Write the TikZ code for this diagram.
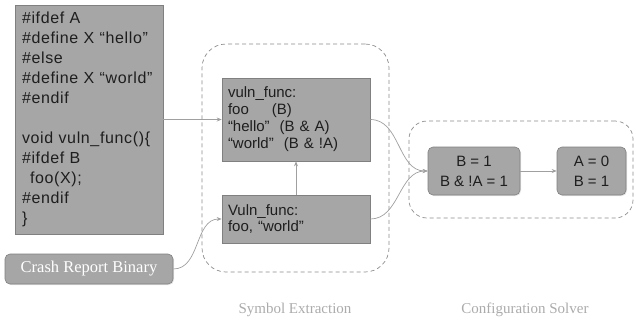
\documentclass[tikz,border=0pt]{standalone}
\usepackage{fontspec}
\setmainfont{Liberation Serif}
\setsansfont{Liberation Sans}
\newfontfamily\codefont[LetterSpace=4]{Liberation Sans}
\usetikzlibrary{arrows.meta,shadows}

\definecolor{boxgray}{HTML}{A6A6A6}
\definecolor{edgegray}{HTML}{808080}
\definecolor{linegray}{HTML}{A0A0A0}
\definecolor{dashgray}{HTML}{8C8C8C}
\definecolor{capgray}{HTML}{ABABAB}
\definecolor{inkgray}{HTML}{1E1E1E}

\begin{document}
\begin{tikzpicture}[x=1pt, y=-1pt,
  graybox/.style={rectangle, draw=edgegray, fill=boxgray, line width=0.6pt, text=inkgray,
    drop shadow={opacity=0.2, shadow xshift=1pt, shadow yshift=-1pt}},
  roundbox/.style={graybox, rounded corners=5pt},
  frame/.style={draw=dashgray, line width=0.7pt, dash pattern=on 4pt off 3pt},
  flow/.style={draw=linegray, line width=0.7pt, -{Stealth[length=5pt, width=4pt]}},
  caption/.style={text=capgray, font=\fontsize{15}{17}\selectfont}]
  \useasboundingbox (0,0) rectangle (636,322);

  % Dashed stage frames
  \node[frame, rounded corners=24pt, minimum width=187pt, minimum height=228pt] (extract) at (295.5,158) {};
  \node[frame, rounded corners=18pt, minimum width=224pt, minimum height=97pt] (solver) at (521,169.5) {};

  % Boxes at absolute positions
  \node[graybox, minimum width=148pt, minimum height=229pt, text width=134pt, inner xsep=7pt, inner ysep=0pt, align=left,
    font=\codefont\fontsize{16}{20}\selectfont] (code) at (89,119.5)
    {\#ifdef A\\ \#define X “hello”\\ \#else\\ \#define X “world”\\ \#endif\\[20pt]
     void vuln\_func()\{\\ \#ifdef B\\ \hspace*{8pt}foo(X);\\ \#endif\\ \}};
  \node[graybox, minimum width=148pt, minimum height=83pt, text width=136pt, inner xsep=6pt, inner ysep=0pt, align=left,
    font=\sffamily\fontsize{15}{17}\selectfont] (vuln) at (296,119.5)
    {vuln\_func:\\ foo\hspace{23pt}(B)\\ “hello”~~(B \& A)\\ “world”~~(B \& !A)};
  \node[graybox, minimum width=148pt, minimum height=48pt, text width=136pt, inner xsep=6pt, inner ysep=0pt, align=left,
    font=\sffamily\fontsize{15}{16}\selectfont] (sym) at (296,219)
    {Vuln\_func:\\ foo, “world”};
  \node[roundbox, minimum width=168pt, minimum height=30pt, inner sep=0pt, text=white,
    font=\fontsize{16.5}{18}\selectfont] (crash) at (89,269) {Crash Report Binary};
  \node[roundbox, minimum width=92pt, minimum height=48pt, inner sep=0pt, align=center,
    font=\sffamily\fontsize{15}{20}\selectfont] (bone) at (474,171) {B = 1\\ B \& !A = 1};
  \node[roundbox, minimum width=69pt, minimum height=48pt, inner sep=0pt, align=center,
    font=\sffamily\fontsize{15}{20}\selectfont] (azero) at (591.5,171) {A = 0\\ B = 1};

  % Arrows
  \draw[flow] (code.east) -- (vuln.west);
  \draw[flow] (sym.north) -- (vuln.south);
  \draw[flow] (crash.east) to[out=0, in=180] (sym.west);
  \draw[flow] (vuln.east) to[out=0, in=180] (bone.west);
  \draw[flow] (sym.east) to[out=0, in=180] (bone.west);
  \draw[flow] (bone.east) -- (azero.west);

  % Stage captions
  \node[caption] (extractcap) at (295,310) {Symbol Extraction};
  \node[caption] (solvercap) at (525,310) {Configuration Solver};
\end{tikzpicture}
\end{document}
